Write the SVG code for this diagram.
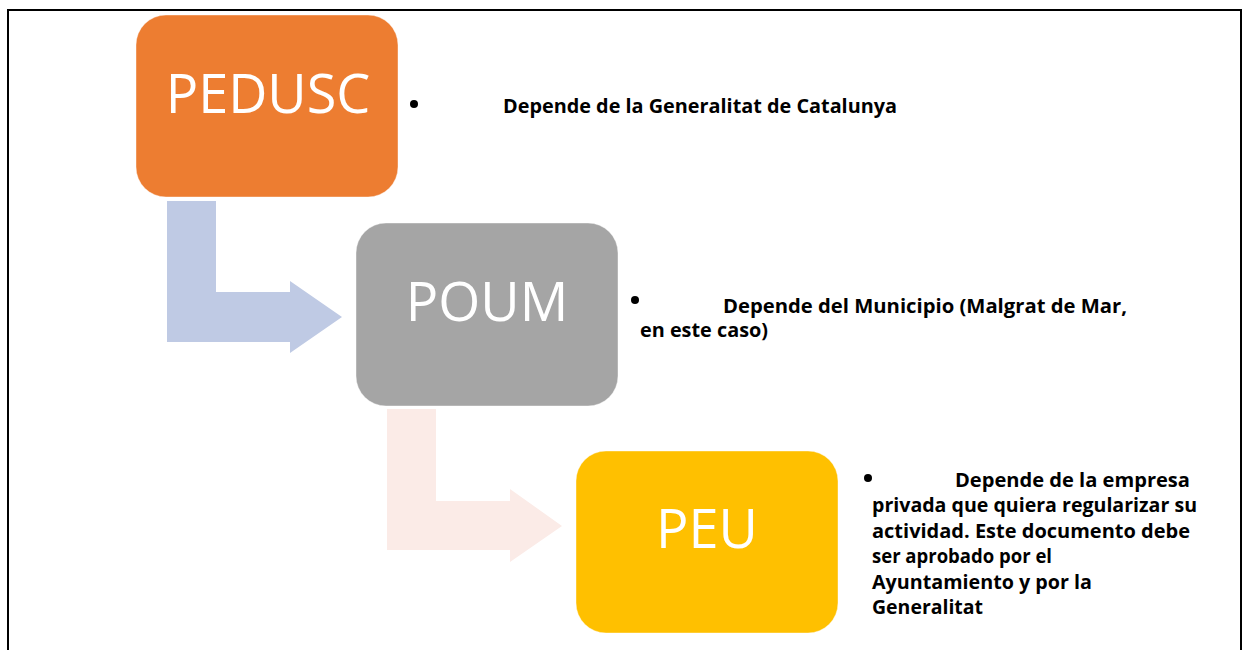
<svg xmlns="http://www.w3.org/2000/svg" width="1245" height="650" viewBox="0 0 1245 650">
<style>
.lbl{font-family:"Open Sans","Liberation Sans",sans-serif;font-size:54px;fill:#fff;text-anchor:middle}
.t{font-family:"Open Sans","Liberation Sans",sans-serif;font-size:19px;font-weight:bold;fill:#000}
.box{stroke:#fff;stroke-width:1;stroke-opacity:0.4}
</style>
<rect x="0" y="0" width="1245" height="650" fill="#fff"/>
<rect x="8" y="10" width="1233" height="660" fill="none" stroke="#000" stroke-width="2"/>
<g id="connectors">
<path d="M167,201 H216 V292 H290 V281 L342,317 L290,353 V342 H167 Z" fill="#BFCAE4"/>
<path d="M387,409 H436 V501 H510 V489 L562,526 L510,562 V550 H387 Z" fill="#FBEBE7"/>
</g>
<g id="pedusc">
<rect class="box" x="136" y="15" width="262" height="182" rx="30" fill="#ED7D31"/>
<text class="lbl" x="268" y="113">PEDUSC</text>
</g>
<g id="poum">
<rect class="box" x="356" y="223" width="262" height="183" rx="30" fill="#A5A5A5"/>
<text class="lbl" x="487" y="321">POUM</text>
</g>
<g id="peu">
<rect class="box" x="576" y="451" width="262" height="182" rx="30" fill="#FFC000"/>
<text class="lbl" x="707" y="548">PEU</text>
</g>
<g id="text1">
<circle cx="414" cy="104" r="4" fill="#000"/>
<text class="t" x="503" y="113" textLength="394" lengthAdjust="spacingAndGlyphs">Depende de la Generalitat de Catalunya</text>
</g>
<g id="text2">
<circle cx="635" cy="300" r="4" fill="#000"/>
<text class="t" x="723" y="313" textLength="404" lengthAdjust="spacingAndGlyphs">Depende del Municipio (Malgrat de Mar,</text>
<text class="t" x="640" y="337" textLength="128" lengthAdjust="spacingAndGlyphs">en este caso)</text>
</g>
<g id="text3">
<circle cx="868" cy="478" r="4" fill="#000"/>
<text class="t" x="955" y="487" textLength="235" lengthAdjust="spacingAndGlyphs">Depende de la empresa</text>
<text class="t" x="872" y="512" textLength="325" lengthAdjust="spacingAndGlyphs">privada que quiera regularizar su</text>
<text class="t" x="872" y="538" textLength="318" lengthAdjust="spacingAndGlyphs">actividad. Este documento debe</text>
<text class="t" x="872" y="563" textLength="180" lengthAdjust="spacingAndGlyphs">ser aprobado por el</text>
<text class="t" x="872" y="589" textLength="220" lengthAdjust="spacingAndGlyphs">Ayuntamiento y por la</text>
<text class="t" x="872" y="614" textLength="111" lengthAdjust="spacingAndGlyphs">Generalitat</text>
</g>
</svg>
